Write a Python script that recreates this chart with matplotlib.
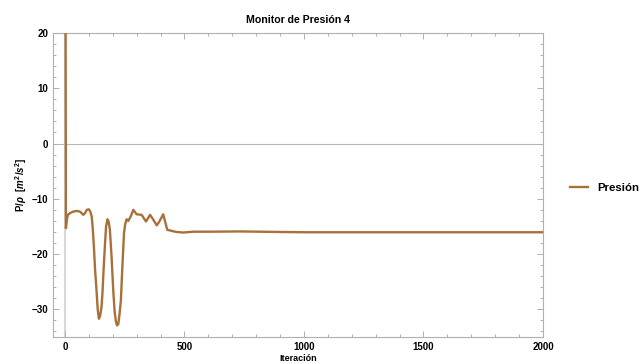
import numpy as np
import matplotlib.pyplot as plt

plt.rcParams['font.family'] = ['Liberation Sans', 'DejaVu Sans']
plt.rcParams['mathtext.fontset'] = 'custom'
plt.rcParams['mathtext.it'] = 'Liberation Sans:italic:bold'
plt.rcParams['mathtext.rm'] = 'Liberation Sans:bold'

# values
iteracion = [0, 2, 4, 8, 12, 21, 35, 49, 62, 70, 77, 84, 91, 100, 106, 112, 116,
             121, 126, 132, 137, 142, 147, 153, 157, 162, 167, 172, 178, 183,
             188, 195, 202, 208, 214, 218, 223, 228, 234, 240, 247, 252, 258,
             265, 275, 286, 300, 321, 339, 356, 370, 384, 395, 411, 428, 446,
             467, 495, 537, 600, 732, 900, 1011, 1300, 1600, 2000]
presion = [60, 40, -15.3, -13.8, -12.9, -12.6, -12.3, -12.2, -12.3, -12.6, -12.9,
           -12.6, -12.0, -11.9, -12.3, -13.2, -15.2,
           -18.6, -22.8, -26.5, -30.0, -31.7, -31.2, -29.6, -27.0, -22.5, -18.6,
           -15.0, -13.7, -14.2,
           -15.6, -20.5, -26.5, -30.5, -32.4, -32.9, -32.7, -31.0, -28.4, -22.5,
           -16.2, -14.6, -13.7,
           -14.0, -13.2, -12.0, -12.8, -12.9, -14.1, -12.9, -13.8, -14.8, -14.1,
           -12.8, -15.6, -15.8,
           -16.0, -16.1, -15.95, -15.95, -15.9, -16.0, -16.05, -16.05, -16.05, -16.05]

fig = plt.figure(figsize=(6.44, 3.64), dpi=100)
ax = fig.add_axes([53/644, 27/364, 490/644, 304/364])

ax.axhline(0, color='#b8b8b8', lw=0.8, zorder=1)
ax.axvline(0, color='#d8d8d8', lw=1.5, zorder=1)
ax.plot(iteracion, presion, color='#a8703a', lw=1.7, label='Presión', zorder=3)

ax.set_xlim(-50, 2000)
ax.set_ylim(-35, 20)
ax.set_xticks(np.arange(0, 2001, 500))
ax.set_xticks(np.arange(0, 2001, 100), minor=True)
ax.set_yticks(np.arange(-30, 21, 10))
ax.set_yticks(np.arange(-34, 21, 2), minor=True)
ax.set_yticklabels(['\u221230', '\u221220', '\u221210', '0', '10', '20'])

for s in ax.spines.values():
    s.set_color('#b0b0b0')
    s.set_linewidth(0.8)
ax.tick_params(which='both', direction='in', top=True, right=True,
               color='#b0b0b0', labelsize=7, width=0.7)
ax.tick_params(which='major', length=4)
ax.tick_params(which='minor', length=2)
for lbl in ax.get_xticklabels() + ax.get_yticklabels():
    lbl.set_fontweight('bold')

ax.set_title('Monitor de Presión 4', fontsize=7.6, fontweight='bold', pad=7)
ax.set_xlabel('Iteración', fontsize=6.5, fontweight='bold', labelpad=1.5)
ax.set_ylabel(r'P/$\rho$  [$m^2$/$s^2$]', fontsize=7, fontweight='bold', labelpad=2)

fig.legend(loc='center left', bbox_to_anchor=(560/644, 1 - 188/364),
           frameon=False, handlelength=1.6,
           prop={'weight': 'bold', 'size': 8.2})

fig.savefig('out.png', dpi=100)
